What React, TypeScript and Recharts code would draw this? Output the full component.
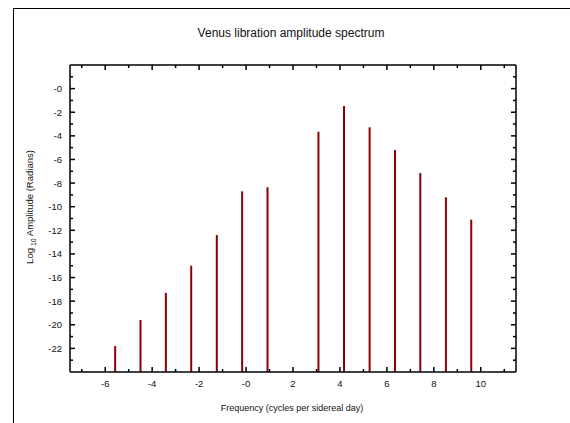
import React from 'react';
import { ComposedChart, Bar, Scatter, XAxis, YAxis } from 'recharts';

// frequency (cycles per sidereal day) and log10 amplitude of each spectral line
const freqs = [-5.59, -4.51, -3.43, -2.35, -1.26, -0.18, 0.9, 3.07, 4.16, 5.25, 6.33, 7.41, 8.5, 9.58];
const logAmps = [-21.8, -19.6, -17.3, -15.0, -12.4, -8.7, -8.35, -3.65, -1.47, -3.28, -5.2, -7.15, -9.2, -11.1];

const xMajor = [-6, -4, -2, 0, 2, 4, 6, 8, 10];
const xMinor = [-7, -5, -3, -1, 1, 3, 5, 7, 9, 11];
const yMajor = [0, -2, -4, -6, -8, -10, -12, -14, -16, -18, -20, -22];
const yMinor = [1, -1, -3, -5, -7, -9, -11, -13, -15, -17, -19, -21, -23];

const X_DOMAIN: [number, number] = [-7.5, 11.5];
const Y_MIN = -24;
const Y_DOMAIN: [number, number] = [Y_MIN, 2];

const data = freqs.map((f, i) => ({ f, amp: logAmps[i], range: [Y_MIN, logAmps[i]] }));
const xTicks = [...xMajor, ...xMinor].sort((a, b) => a - b);
const yTicks = [...yMajor, ...yMinor].sort((a, b) => a - b);

const FONT = '"Liberation Sans", Arial, Helvetica, sans-serif';
const fmt = (v: number) => (v <= 0 ? '-' + Math.abs(v) : String(v));
const isMajor = (list: number[], v: number) => list.some((m) => Math.abs(m - v) < 1e-9);

const BottomTick = (p: any) => {
  const major = isMajor(xMajor, p.payload.value);
  return (
    <g>
      <line x1={p.x} x2={p.x} y1={p.y} y2={p.y - (major ? 5 : 3)} stroke="#000" strokeWidth={1.5} />
      {major && (
        <text x={p.x} y={p.y + 14.5} textAnchor="middle" fontSize={9.5} fontFamily={FONT} fill="#111">
          {fmt(p.payload.value)}
        </text>
      )}
    </g>
  );
};

const TopTick = (p: any) => {
  const major = isMajor(xMajor, p.payload.value);
  return <line x1={p.x} x2={p.x} y1={p.y} y2={p.y + (major ? 5 : 3)} stroke="#000" strokeWidth={1.5} />;
};

const LeftTick = (p: any) => {
  const major = isMajor(yMajor, p.payload.value);
  return (
    <g>
      <line x1={p.x} x2={p.x + (major ? 5 : 3)} y1={p.y} y2={p.y} stroke="#000" strokeWidth={1.5} />
      {major && (
        <text x={p.x - 8} y={p.y + 3.5} textAnchor="end" fontSize={9.5} fontFamily={FONT} fill="#111">
          {fmt(p.payload.value)}
        </text>
      )}
    </g>
  );
};

const RightTick = (p: any) => {
  const major = isMajor(yMajor, p.payload.value);
  return <line x1={p.x} x2={p.x - (major ? 5 : 3)} y1={p.y} y2={p.y} stroke="#000" strokeWidth={1.5} />;
};

const axisLine = { stroke: '#000', strokeWidth: 1.5 };
const NoShape = () => <g />;

export default function App() {
  return (
    <div style={{ position: 'fixed', left: 0, top: 0, width: 570, height: 423, overflow: 'hidden', background: '#fff' }}>
      <div style={{ position: 'absolute', left: 13, top: 8, width: 700, height: 600, borderLeft: '1.5px solid #000', borderTop: '1.5px solid #000' }} />
      <div style={{ position: 'absolute', left: 0, top: 0 }}>
        <ComposedChart width={570} height={423} data={data} margin={{ top: 64, right: 53, bottom: 50, left: 69 }}>
          <XAxis xAxisId="b" dataKey="f" type="number" domain={X_DOMAIN} ticks={xTicks} interval={0}
            height={1} tickSize={0} tickMargin={0} tickLine={false} axisLine={axisLine} tick={BottomTick} allowDataOverflow />
          <XAxis xAxisId="t" dataKey="f" orientation="top" type="number" domain={X_DOMAIN} ticks={xTicks} interval={0}
            height={1} tickSize={0} tickMargin={0} tickLine={false} axisLine={axisLine} tick={TopTick} allowDataOverflow />
          <YAxis yAxisId="l" type="number" domain={Y_DOMAIN} ticks={yTicks} interval={0}
            width={1} tickSize={0} tickMargin={0} tickLine={false} axisLine={axisLine} tick={LeftTick} allowDataOverflow />
          <YAxis yAxisId="r" orientation="right" type="number" domain={Y_DOMAIN} ticks={yTicks} interval={0}
            width={1} tickSize={0} tickMargin={0} tickLine={false} axisLine={axisLine} tick={RightTick} allowDataOverflow />
          <Bar xAxisId="b" yAxisId="l" dataKey="range" fill="#8b0000" barSize={2} isAnimationActive={false} />
          <Scatter xAxisId="t" yAxisId="r" dataKey="amp" shape={NoShape} isAnimationActive={false} />
        </ComposedChart>
      </div>
      <svg width={570} height={423} style={{ position: 'absolute', left: 0, top: 0, pointerEvents: 'none' }}>
        <text x={291} y={37} textAnchor="middle" fontSize={12} fontFamily={FONT} fill="#111">
          Venus libration amplitude spectrum
        </text>
        <text x={292} y={411} textAnchor="middle" fontSize={9} fontFamily={FONT} fill="#111">
          Frequency (cycles per sidereal day)
        </text>
        <text transform="translate(33,207) rotate(-90)" textAnchor="middle" fontSize={9.5} fontFamily={FONT} fill="#111">
          Log<tspan fontSize={7} dy={3}> 10</tspan><tspan dy={-3}> Amplitude (Radians)</tspan>
        </text>
      </svg>
    </div>
  );
}
